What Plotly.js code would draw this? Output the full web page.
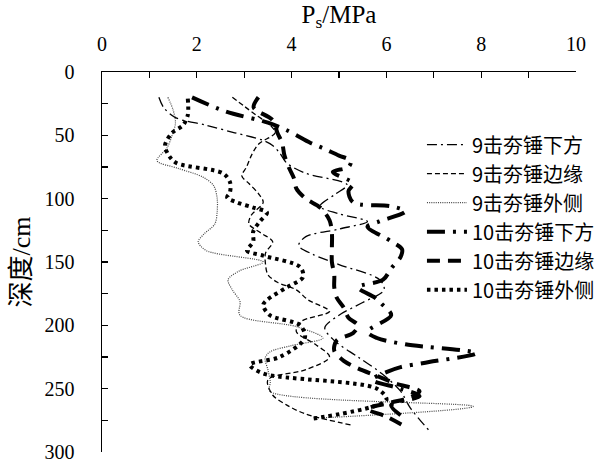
<!DOCTYPE html>
<html>
<head>
<meta charset="utf-8">
<script src="https://cdn.plot.ly/plotly-3.0.1.min.js"></script>
<style>html,body{margin:0;padding:0;background:#fff;}#chart{width:615px;height:469px;}</style>
</head>
<body>
<div id="chart"></div>
<script>
// Series names
const seriesNames = ["9击夯锤下方", "9击夯锤边缘", "9击夯锤外侧", "10击夯锤下方", "10击夯锤边缘", "10击夯锤外侧"];

// 9击夯锤下方
const depth9Below = [20,28,36,42,48,54,58,64,72,80,89,97,106,112,118,124,130,137,144,152,164,172,182,192,202,212,225,238,252,265,283];
const ps9Below    = [1.2,1.3,1.55,2.2,2.8,3.4,3.6,3.75,3.9,4.3,5.17,4.9,4.6,5.0,5.6,5.0,4.3,4.15,4.45,5.0,5.86,5.95,5.5,5.0,4.7,4.9,5.4,5.9,6.3,6.5,6.9];

// 9击夯锤边缘
const depth9Edge = [20,27,34,42,48,57,66,75,82,88,96,103,113,120,127,134,143,152,160,166,172,180,189,197,205,215,225,235,243,255,263,270,279];
const ps9Edge    = [2.75,3.0,3.25,3.55,3.65,3.3,3.15,3.05,2.95,3.1,3.3,3.4,3.15,3.1,3.35,3.6,3.45,3.45,3.5,3.7,4.1,4.35,4.8,4.2,4.1,4.5,4.8,4.3,3.5,3.6,3.9,4.3,5.3];

// 9击夯锤外侧
const depth9Out = [20,30,40,50,60,70,76,83,90,100,110,120,128,134,141,150,157,164,172,181,192,201,210,216,221,226,235,245,252,264,273];
const ps9Out    = [1.39,1.5,1.55,1.48,1.37,1.16,1.6,2.13,2.36,2.43,2.43,2.38,2.15,2.03,2.2,3.4,2.9,2.66,2.75,2.91,2.91,4.1,4.66,4.0,3.54,3.44,3.5,3.55,3.54,7.83,4.66];

// 10击夯锤下方
const depth10Below = [20,31,40,46,56,60,66,70,75,79,88,94,103,106,110,118,122,133,140,146,155,164,170,178,183,192,205,210,215,222,229,233,237,243,250,256,263,271];
const ps10Below    = [1.9,2.6,3.5,3.9,4.4,4.65,5.0,5.25,5.2,4.87,5.3,5.2,5.3,6.1,6.4,5.85,5.6,6.07,6.33,6.3,6.1,5.93,5.4,5.75,5.9,6.1,5.6,5.8,6.4,7.9,6.9,6.3,6.0,5.7,6.3,6.7,6.1,6.3];

// 10击夯锤边缘
const depth10Edge = [20,28,38,48,56,66,76,84,92,100,107,117,127,139,150,160,170,178,186,194,200,206,212,220,228,234,240,246,252,257,261,266,272,280];
const ps10Edge    = [3.3,3.2,3.6,3.7,3.8,3.85,3.95,4.05,4.1,4.3,4.6,4.8,4.85,4.85,4.85,4.9,4.9,4.95,5.1,5.2,5.4,5.3,4.95,4.9,5.1,5.4,5.8,6.2,6.7,6.5,6.1,5.6,6.0,6.4];

// 10击夯锤外侧
const depth10Out = [21,34,42,48,58,67,72,80,87,95,99,103,107,111,118,126,134,141,145,154,162,170,180,184,192,200,210,225,231,238,250,259,274];
const ps10Out    = [1.81,1.81,1.71,1.48,1.33,1.43,1.58,2.55,2.7,2.7,2.64,2.85,3.19,3.48,3.33,3.19,3.19,3.06,3.4,4.18,4.24,3.9,3.48,3.4,3.54,4.18,4.28,3.75,3.12,3.4,5.8,6.0,4.4];

const xTickVals = [0,2,4,6,8,10];
const yTickVals = [0,50,100,150,200,250,300];

function tr(name, x, y, width, dash, color) {
  return {
    type: 'scatter', mode: 'lines', name: name, x: x, y: y,
    line: {color: color || '#000', width: width, dash: dash, shape: 'spline', smoothing: 0.9}
  };
}

const data = [
  tr(seriesNames[0], ps9Below, depth9Below, 1.3, '10px,4px,2px,4px'),
  tr(seriesNames[1], ps9Edge, depth9Edge, 1.3, '5px,3px'),
  tr(seriesNames[2], ps9Out, depth9Out, 1.2, '1px,1.2px', '#444'),
  tr(seriesNames[3], ps10Below, depth10Below, 4, '18px,8px,3px,8px'),
  tr(seriesNames[4], ps10Edge, depth10Edge, 4, '13px,8px'),
  tr(seriesNames[5], ps10Out, depth10Out, 4, '3.5px,4px')
];

const tickFont = {family: 'Liberation Serif', size: 20, color: '#000'};

const layout = {
  width: 615, height: 469,
  margin: {l: 102, r: 39, t: 72, b: 17},
  paper_bgcolor: '#fff', plot_bgcolor: '#fff',
  showlegend: true,
  xaxis: {
    side: 'top', range: [0, 10], tickvals: xTickVals,
    ticks: 'inside', ticklen: 6, tickwidth: 1.3, tickcolor: '#000',
    minor: {dtick: 1, ticks: 'inside', ticklen: 6, tickwidth: 1.3, tickcolor: '#000', showgrid: false},
    showline: true, linecolor: '#000', linewidth: 1.5,
    showgrid: false, zeroline: false,
    tickfont: tickFont, ticklabelstandoff: 12,
    title: {text: 'P<sub>s</sub>/MPa', font: {family: 'Liberation Serif', size: 25, color: '#000'}, standoff: 2}
  },
  yaxis: {
    range: [300, 0], tickvals: yTickVals,
    ticks: 'inside', ticklen: 6, tickwidth: 1.3, tickcolor: '#000',
    minor: {dtick: 25, ticks: 'inside', ticklen: 6, tickwidth: 1.3, tickcolor: '#000', showgrid: false},
    showline: true, linecolor: '#000', linewidth: 1.5,
    showgrid: false, zeroline: false,
    tickfont: tickFont, ticklabelstandoff: 22,
    title: {text: '深度/cm', font: {family: 'Liberation Serif, Noto Sans CJK SC', size: 26, color: '#000'}, standoff: 6}
  },
  legend: {
    x: 0.675, y: 0.86, xanchor: 'left', yanchor: 'top',
    font: {family: 'Noto Sans CJK SC', size: 20, color: '#000'},
    bgcolor: 'rgba(255,255,255,0)', borderwidth: 0, itemwidth: 40, tracegroupgap: 0
  }
};

Plotly.newPlot('chart', data, layout, {displayModeBar: false, staticPlot: true});
</script>
</body>
</html>
